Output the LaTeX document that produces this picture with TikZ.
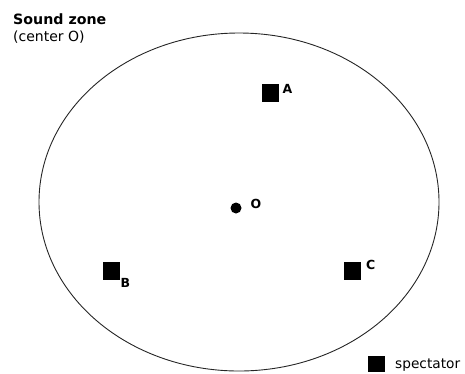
\documentclass[tikz,border=0pt]{standalone}
\usepackage{fontspec}
\setmainfont{DejaVu Sans}
\usetikzlibrary{positioning}
\tikzset{
  spectator/.style={fill=black, minimum width=17pt, minimum height=18pt, inner sep=0pt},
  letter/.style={font=\fontsize{12.5}{12.5}\selectfont\bfseries, inner sep=0pt, anchor=base west},
  caption/.style={inner sep=0pt, anchor=base west}
}

\begin{document}
\begin{tikzpicture}[x=1pt,y=-1pt]
  \useasboundingbox (0,0) rectangle (465,373);
  % Title
  \node[caption, font=\fontsize{14.2}{14.2}\selectfont\bfseries] (title) at (13,24) {Sound zone};
  \node[caption, font=\fontsize{14}{14}\selectfont] (subtitle) at (13,41) {(center O)};
  % Sound zone boundary
  \draw[line width=0.9pt, black!85] (239,202) ellipse [x radius=200, y radius=169];
  % Center O
  \node[circle, fill=black, minimum size=11pt, inner sep=0pt] (O) at (236,208) {};
  \node[letter] (Olabel) at (250.5,208) {O};
  % Spectators
  \node[spectator] (A) at (270.5,92.5) {};
  \node[letter] (Alabel) at (282.5,93) {A};
  \node[spectator] (B) at (111.5,271) {};
  \node[letter] (Blabel) at (120.5,287) {B};
  \node[spectator] (C) at (352,271) {};
  \node[letter] (Clabel) at (366,269) {C};
  % Legend
  \node[spectator, minimum height=16pt] (key) at (376.5,363.5) {};
  \node[caption, font=\fontsize{13.7}{13.7}\selectfont] (keytext) at (395,368) {spectator};
\end{tikzpicture}
\end{document}
